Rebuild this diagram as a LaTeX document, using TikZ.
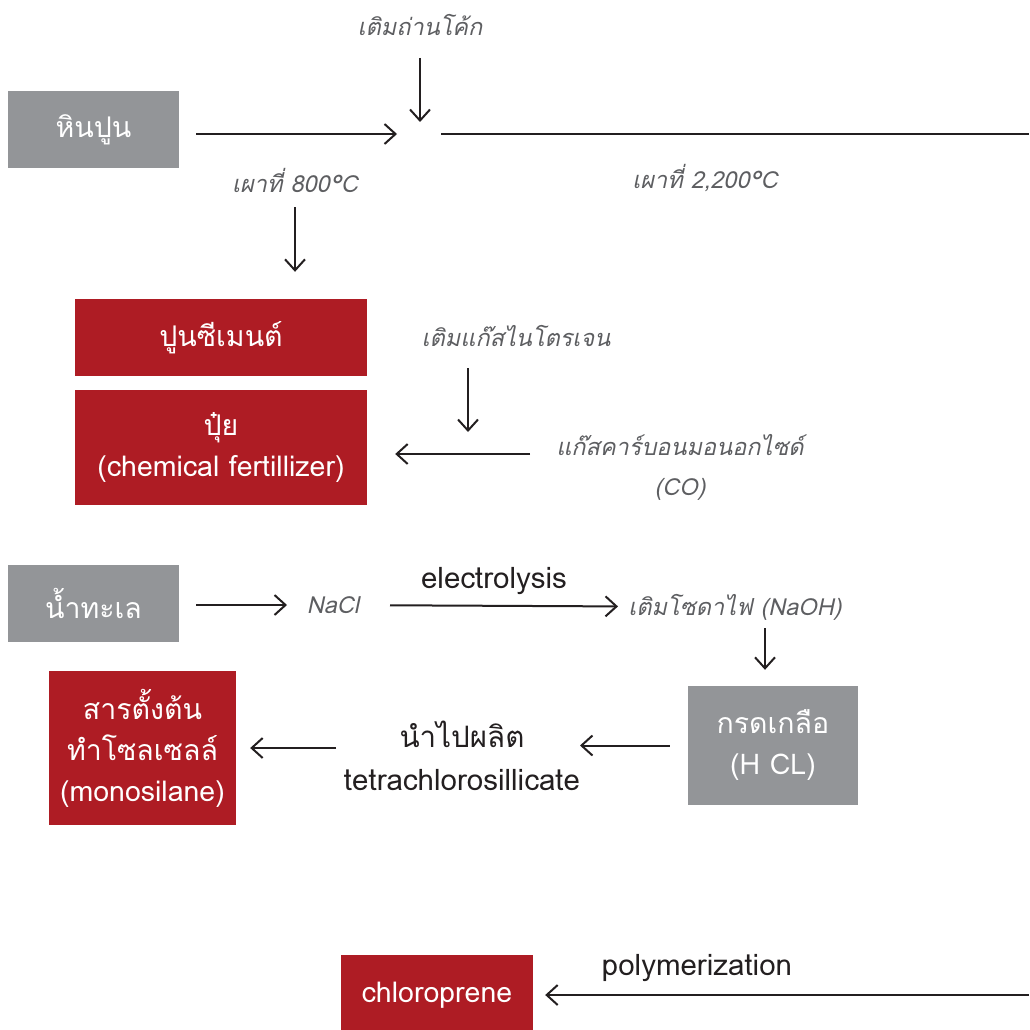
\documentclass[tikz,border=0pt]{standalone}
\usepackage{fontspec}
\setmainfont[Script=Thai]{Loma}
\usetikzlibrary{
	arrows.meta,
	positioning,
}
\definecolor{stonegray}{HTML}{939598}
\definecolor{productred}{HTML}{AE1C24}
\definecolor{notegray}{HTML}{5D5E61}
\definecolor{inkblack}{HTML}{231F20}
\tikzset{
	gray box/.style={
		fill=stonegray,
		text=white,
		align=center,
		inner sep=0pt,
		font=\fontsize{28.5}{41}\selectfont,
	},
	red box/.style={
		gray box,
		fill=productred,
	},
	note/.style={
		text=notegray,
		inner sep=0pt,
		align=center,
		font=\fontsize{23.5}{40}\selectfont\itshape,
	},
	label/.style={
		text=inkblack,
		inner sep=0pt,
		align=center,
		font=\fontsize{29.5}{43}\selectfont,
	},
	flow/.style={
		draw=inkblack,
		line width=2pt,
		-{Straight Barb[length=11pt,width=20pt,line width=2pt]},
	},
	plain line/.style={
		draw=inkblack,
		line width=2pt,
	},
}

\begin{document}
\begin{tikzpicture}[x=1pt,y=-1pt]
\useasboundingbox (0,0) rectangle (1029,1030);

% upper chain: limestone
\node[gray box, minimum width=171pt, minimum height=77pt] (limestone) at (93.5,129.5) {หินปูน};
\node[note] (coke) at (420,25) {เติมถ่านโค้ก};
\node[note] (burn800) at (295,180) {เผาที่ 800°C};
\node[note] (burn2200) at (705,178) {เผาที่ 2,200°C};
\coordinate (kiln) at (420,134);
\coordinate (edge top) at (1029,134);

\node[red box, minimum width=292pt, minimum height=77pt] (cement) at (221,337.5) {ปูนซีเมนต์};
\node[red box, minimum width=292pt, minimum height=115pt] (fertilizer) at (221,447.5) {ปุ๋ย\\(chemical fertillizer)};
\node[note] (nitrogen) at (516,336) {เติมแก๊สไนโตรเจน};
\node[note] (co) at (680,467) {แก๊สคาร์บอนมอนอกไซด์\\(CO)};
\coordinate (mix) at (468,454);
\coordinate (co start) at (530,454);

\draw[flow, shorten <=17pt, shorten >=23pt] (limestone.east |- kiln) -- (kiln);
\draw[flow, shorten <=33pt, shorten >=12pt] (coke.center) -- (kiln);
\draw[plain line, shorten <=21pt] (kiln) -- (edge top);
\draw[flow, shorten <=27pt, shorten >=27pt] (burn800.center) -- (burn800.center |- cement.north);
\draw[flow, shorten <=32pt, shorten >=22pt] (nitrogen.center -| mix) -- (mix);
\draw[flow, shorten >=28pt] (co start) -- (fertilizer.east |- mix);

% lower chain: sea water
\node[gray box, minimum width=171pt, minimum height=77pt] (seawater) at (93.5,603.5) {น้ำทะเล};
\node[note] (nacl) at (333,605) {NaCl};
\node[label] (electro) at (494,581) {electrolysis};
\node[note] (naoh) at (735,607) {เติมโซดาไฟ (NaOH)};
\coordinate (soda drop) at (765,607);
\node[gray box, minimum width=170pt, minimum height=119pt] (hcl) at (773,745.5) {กรดเกลือ\\(H CL)};
\node[label] (make) at (462,756) {นำไปผลิต\\tetrachlorosillicate};
\node[red box, minimum width=187pt, minimum height=154pt] (monosilane) at (142.5,748) {สารตั้งต้น\\ทำโซลเซลล์\\(monosilane)};

\draw[flow, shorten <=17pt, shorten >=46pt] (seawater.east |- nacl) -- (nacl.center);
\draw[flow, shorten <=57pt, shorten >=117pt] (nacl.center) -- (naoh.center);
\draw[flow, shorten <=21pt, shorten >=16pt] (soda drop) -- (soda drop |- hcl.north);
\draw[flow, shorten <=18pt, shorten >=118pt] (hcl.west) -- (hcl.west -| make.center);
\draw[flow, shorten <=126pt, shorten >=14pt] (make.center |- monosilane) -- (monosilane.east);

% bottom: chloroprene
\node[red box, minimum width=192pt, minimum height=80pt] (chloroprene) at (437,995) {chloroprene};
\node[label] (polymer) at (697,968) {polymerization};
\coordinate (edge bottom) at (1029,995);
\draw[flow, shorten >=12pt] (edge bottom) -- (chloroprene.east);

\end{tikzpicture}
\end{document}
